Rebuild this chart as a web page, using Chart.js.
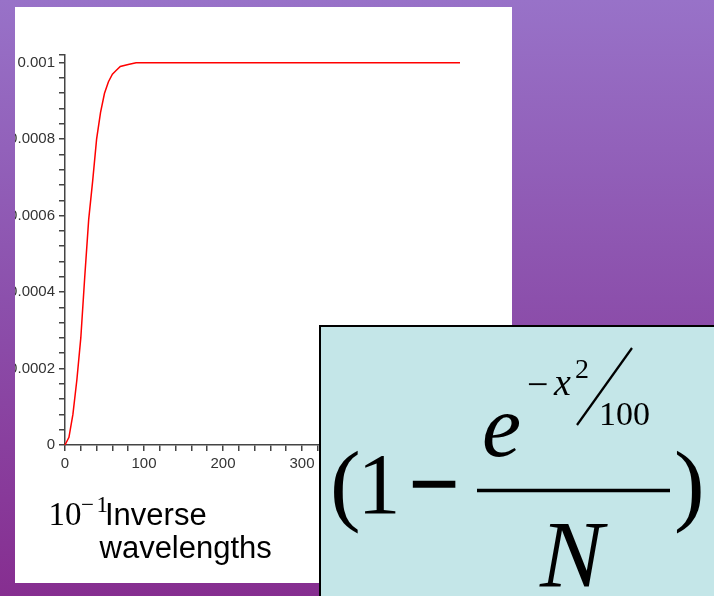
<!DOCTYPE html>
<html>
<head>
<meta charset="utf-8">
<script src="https://cdn.jsdelivr.net/npm/chart.js"></script>
<style>
    html, body { margin: 0; padding: 0; }
    body {
        width: 714px; height: 596px; overflow: hidden; position: relative;
        background: linear-gradient(#9872c8, #8c50ac 50%, #862e90);
    }
    #panel { position: absolute; left: 15px; top: 7px; width: 497px; height: 576px; background: #fff; overflow: hidden; }
    #grafico { position: absolute; left: -15px; top: -7px; }
    #caja {
        position: absolute; left: 319px; top: 325px; width: 400px; height: 280px;
        background: #c4e6e8; border-left: 2px solid #000; border-top: 2px solid #000; box-sizing: border-box;
    }
    #textos { position: absolute; left: 0; top: 0; }
</style>
</head>
<body>
<div id="panel">
    <canvas id="grafico" width="520" height="480"></canvas>
</div>
<div id="caja"></div>
<svg id="textos" width="714" height="596" xmlns="http://www.w3.org/2000/svg">
    <!-- etiqueta del eje -->
    <text x="48.5" y="525" font-family="Liberation Serif, Times New Roman, serif" font-size="33">10</text>
    <text x="81" y="512" font-family="Liberation Serif, Times New Roman, serif" font-size="23">−</text>
    <text x="96.5" y="512" font-family="Liberation Serif, Times New Roman, serif" font-size="23">1</text>
    <text x="105" y="525" font-family="Liberation Sans, Arial, sans-serif" font-size="31">Inverse</text>
    <text x="99.5" y="558" font-family="Liberation Sans, Arial, sans-serif" font-size="31">wavelengths</text>
    <!-- formula -->
    <g font-family="Liberation Serif, Times New Roman, serif" fill="#000">
        <text x="330" y="513.5" font-size="92">(</text>
        <text x="357.5" y="513" font-size="86">1</text>
        <text x="410" y="513" font-size="86" stroke="#000" stroke-width="2.5">−</text>
        <line x1="477" y1="490.5" x2="670" y2="490.5" stroke="#000" stroke-width="3.5"/>
        <text x="482" y="456" font-size="88" font-style="italic">e</text>
        <text x="527" y="397" font-size="38">−</text>
        <text x="554" y="395" font-size="38" font-style="italic">x</text>
        <text x="575" y="378" font-size="28">2</text>
        <line x1="632" y1="348" x2="577" y2="425" stroke="#000" stroke-width="2.2"/>
        <text x="599" y="425" font-size="34">100</text>
        <text x="540" y="587" font-size="95" font-style="italic">N</text>
        <text x="674" y="513.5" font-size="92">)</text>
    </g>
</svg>
<script>
    // Datos (x en 10^-1 inversas de longitud de onda)
    let valoresX = [0, 5, 10, 15, 20, 25, 30, 35, 40, 45, 50, 55, 60, 65, 70, 80, 90, 500];
    let valoresY = [0, 0.00002, 0.00008, 0.00017, 0.00028, 0.00044, 0.00059, 0.00069, 0.00080,
                    0.00087, 0.00092, 0.00095, 0.00097, 0.00098, 0.00099, 0.000995, 0.001, 0.001];
    let etiquetasX = [0, 100, 200, 300, 400, 500];
    let etiquetasY = [0, 0.0002, 0.0004, 0.0006, 0.0008, 0.001];

    let puntos = valoresX.map((x, i) => ({ x: x, y: valoresY[i] }));
    let gris = '#444';

    let ctx = document.getElementById('grafico').getContext('2d');
    new Chart(ctx, {
        type: 'line',
        data: {
            datasets: [{
                data: puntos,
                borderColor: '#ff0000',
                borderWidth: 1.5,
                pointRadius: 0,
                tension: 0,
                clip: 6
            }]
        },
        options: {
            responsive: false,
            animation: false,
            layout: { padding: { top: 55, right: 60, bottom: 5, left: 0 } },
            plugins: { legend: { display: false }, tooltip: { enabled: false } },
            scales: {
                x: {
                    type: 'linear',
                    min: 0,
                    max: 500,
                    border: { color: gris, width: 1.5 },
                    grid: { drawOnChartArea: false, color: gris, lineWidth: 1.5, tickLength: 6 },
                    ticks: {
                        stepSize: 20,
                        maxRotation: 0,
                        autoSkip: false,
                        padding: 4,
                        color: '#333',
                        font: { family: 'Liberation Sans, Arial', size: 15 },
                        callback: v => etiquetasX.includes(v) ? String(v) : ''
                    },
                    afterFit: s => { s.height = 30; s.paddingLeft = 0; s.paddingRight = 0; }
                },
                y: {
                    min: 0,
                    max: 0.00102,
                    border: { color: gris, width: 1.5 },
                    grid: { drawOnChartArea: false, color: gris, lineWidth: 1.5, tickLength: 6 },
                    ticks: {
                        stepSize: 0.00004,
                        includeBounds: false,
                        autoSkip: false,
                        padding: 4,
                        color: '#333',
                        font: { family: 'Liberation Sans, Arial', size: 15 },
                        callback: v => {
                            let e = etiquetasY.find(t => Math.abs(t - v) < 1e-9);
                            return e === undefined ? '' : String(e);
                        }
                    },
                    afterBuildTicks: s => { s.ticks.push({ value: 0.00102 }); },
                    afterFit: s => { s.width = 65; s.paddingTop = 0; s.paddingBottom = 0; }
                }
            }
        }
    });
</script>
</body>
</html>
